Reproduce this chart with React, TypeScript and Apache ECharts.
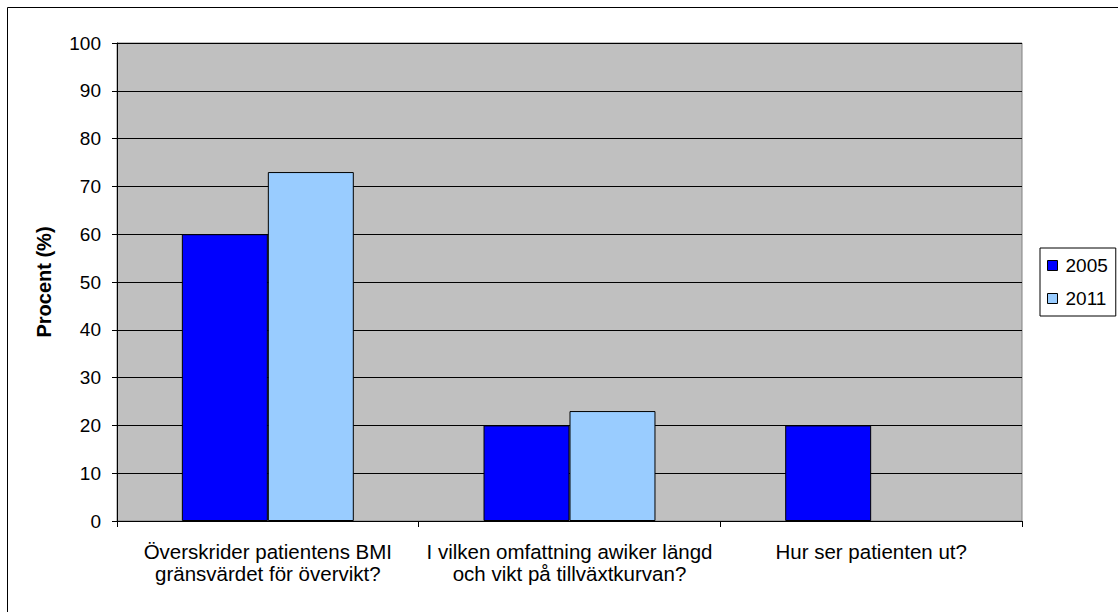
import React, { useEffect, useRef } from "react";
import * as echarts from "echarts";

const categories = [
  "Överskrider patientens BMI\ngränsvärdet för övervikt?",
  "I vilken omfattning awiker längd\noch vikt på tillväxtkurvan?",
  "Hur ser patienten ut?",
];
const series2005 = [60, 20, 20];
const series2011 = [73, 23, null];
const seriesNames = ["2005", "2011"];
const yTicks = { min: 0, max: 100, interval: 10 };

const FONT = "'Liberation Sans', Arial, Helvetica, sans-serif";

export default function App() {
  const ref = useRef<HTMLDivElement>(null);
  useEffect(() => {
    if (!ref.current) return;
    const chart = echarts.init(ref.current, undefined, { renderer: "svg" });
    chart.setOption({
      animation: false,
      backgroundColor: "#ffffff",
      textStyle: { fontFamily: FONT, color: "#000" },
      graphic: [
        {
          type: "rect",
          shape: { x: 7.5, y: 7.5, width: 1200, height: 700 },
          style: { fill: "none", stroke: "#000", lineWidth: 1 },
          silent: true,
        },
      ],
      grid: {
        left: 117,
        top: 43,
        width: 905,
        height: 478,
        show: true,
        backgroundColor: "#c0c0c0",
        borderColor: "#808080",
        borderWidth: 1,
      },
      legend: {
        data: seriesNames,
        orient: "vertical",
        left: 1040,
        top: 248,
        width: 75,
        padding: [8, 8, 8, 7],
        itemWidth: 10,
        itemHeight: 10,
        itemGap: 14,
        icon: "rect",
        borderColor: "#000",
        borderWidth: 1,
        backgroundColor: "#fff",
        itemStyle: { borderColor: "#000", borderWidth: 1 },
        textStyle: { fontFamily: FONT, fontSize: 19, color: "#000", padding: [0, 0, 0, 3] },
      },
      xAxis: {
        type: "category",
        data: categories,
        boundaryGap: true,
        axisLine: { show: true, lineStyle: { color: "#000", width: 1 } },
        axisTick: { show: true, interval: 0, length: 6, lineStyle: { color: "#000" } },
        axisLabel: {
          interval: 0,
          fontFamily: FONT,
          fontSize: 20.5,
          lineHeight: 22,
          color: "#000",
          margin: 19,
          align: "center",
        },
        splitLine: { show: false },
      },
      yAxis: {
        type: "value",
        min: yTicks.min,
        max: yTicks.max,
        interval: yTicks.interval,
        name: "Procent (%)",
        nameLocation: "middle",
        nameGap: 63,
        nameTextStyle: { fontFamily: FONT, fontSize: 20, fontWeight: "bold", color: "#000" },
        axisLine: { show: true, lineStyle: { color: "#000", width: 1 } },
        axisTick: { show: true, length: 5, lineStyle: { color: "#000" } },
        axisLabel: { fontFamily: FONT, fontSize: 19, color: "#000", margin: 16 },
        splitLine: { show: true, lineStyle: { color: "#000", width: 1 } },
      },
      series: [
        {
          name: seriesNames[0],
          type: "bar",
          data: series2005,
          barGap: "0%",
          barCategoryGap: "43%",
          itemStyle: { color: "#0000ff", borderColor: "#000", borderWidth: 1 },
        },
        {
          name: seriesNames[1],
          type: "bar",
          data: series2011,
          barGap: "0%",
          barCategoryGap: "43%",
          itemStyle: { color: "#99ccff", borderColor: "#000", borderWidth: 1 },
        },
      ],
    });
    return () => chart.dispose();
  }, []);
  return (
    <div
      ref={ref}
      style={{ position: "absolute", left: 0, top: 0, width: 1118, height: 612 }}
    />
  );
}
